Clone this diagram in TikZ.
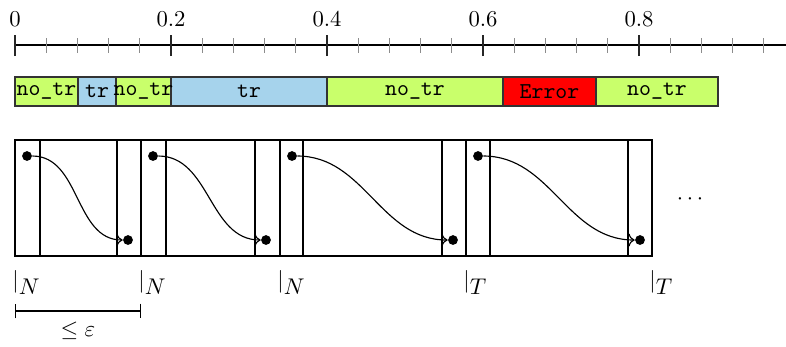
\documentclass[tikz,border=0pt]{standalone}
\usetikzlibrary{arrows.meta}
\definecolor{segg}{RGB}{201,255,107}
\definecolor{segb}{RGB}{166,211,236}
\definecolor{segr}{RGB}{255,0,0}
\tikzset{
  seg/.style={draw=black!80, line width=0.5pt},
  segtxt/.style={inner sep=0pt, font=\ttfamily},
  frame/.style={draw=black, line width=0.9pt},
  dot/.style={circle, fill=black, inner sep=0pt, minimum size=4.3pt},
  flow/.style={->, line width=0.5pt},
  majortick/.style={draw=black!85, line width=0.6pt},
  minortick/.style={draw=black!45, line width=0.4pt},
  lbl/.style={anchor=base west, inner sep=0pt}
}
\begin{document}
\begin{tikzpicture}[x=0.4405pt, y=-0.4405pt]
\useasboundingbox (0,0) rectangle (786,346);
% axis
\coordinate (ax0) at (15,45);
\coordinate (ax1) at (786,45);
\draw[line width=0.5pt] (ax0) -- (ax1);
\foreach \i in {1,...,24} {
  \pgfmathsetmacro\xx{15+31.2*\i}
  \draw[minortick] (\xx,38) -- (\xx,53);
}
\foreach \v/\xx in {0/15, 0.2/171, 0.4/327, 0.6/483, 0.8/639} {
  \draw[majortick] (\xx,56) -- (\xx,35) node[above, inner sep=3.33pt] (t\xx) {$\v$};
}
% segments
\draw[seg, fill=segg] (15,77) rectangle (78,106);
\draw[seg, fill=segb] (78,77) rectangle (116,106);
\draw[seg, fill=segg] (116,77) rectangle (171,106);
\draw[seg, fill=segb] (171,77) rectangle (327,106);
\draw[seg, fill=segg] (327,77) rectangle (503,106);
\draw[seg, fill=segr] (503,77) rectangle (596,106);
\draw[seg, fill=segg] (596,77) rectangle (718,106);
\node[segtxt] (s1) at (46.5,91.5) {no\_tr};
\node[segtxt] (s2) at (97,91.5) {tr};
\node[segtxt] (s3) at (143.5,91.5) {no\_tr};
\node[segtxt] (s4) at (249,91.5) {tr};
\node[segtxt] (s5) at (415,91.5) {no\_tr};
\node[segtxt] (s6) at (549.5,91.5) {Error};
\node[segtxt] (s7) at (657,91.5) {no\_tr};
% frames
\draw[frame] (15,140) rectangle (141,256);
\draw[frame] (40,140) -- (40,256) (117,140) -- (117,256);
\draw[frame] (141,140) rectangle (280,256);
\draw[frame] (166,140) -- (166,256) (255,140) -- (255,256);
\draw[frame] (280,140) rectangle (466,256);
\draw[frame] (303,140) -- (303,256) (442,140) -- (442,256);
\draw[frame] (466,140) rectangle (652,256);
\draw[frame] (490,140) -- (490,256) (628,140) -- (628,256);
% dots and flows
\node[dot] (a1) at (27,156) {};
\node[dot] (b1) at (128,240) {};
\node[dot] (a2) at (153,156) {};
\node[dot] (b2) at (266,240) {};
\node[dot] (a3) at (292,156) {};
\node[dot] (b3) at (453,240) {};
\node[dot] (a4) at (478,156) {};
\node[dot] (b4) at (640,240) {};
\draw[flow] (a1) to[out=0, in=180] (b1);
\draw[flow] (a2) to[out=0, in=180] (b2);
\draw[flow] (a3) to[out=0, in=180] (b3);
\draw[flow] (a4) to[out=0, in=180] (b4);
\node (dots) at (690,199) {$\cdots$};
% labels
\node[lbl] (n1) at (12,287) {$|_{\textstyle N}$};
\node[lbl] (n2) at (138,287) {$|_{\textstyle N}$};
\node[lbl] (n3) at (277,287) {$|_{\textstyle N}$};
\node[lbl] (n4) at (463,287) {$|_{\textstyle T}$};
\node[lbl] (n5) at (649,287) {$|_{\textstyle T}$};
% epsilon bar
\coordinate (e0) at (15,311);
\coordinate (e1) at (141,311);
\draw[{Bar[width=6.5pt]}-{Bar[width=6.5pt]}, line width=0.6pt] (e0) -- (e1);
\node (eps) at (78,331) {$\leq\varepsilon$};
\end{tikzpicture}
\end{document}
